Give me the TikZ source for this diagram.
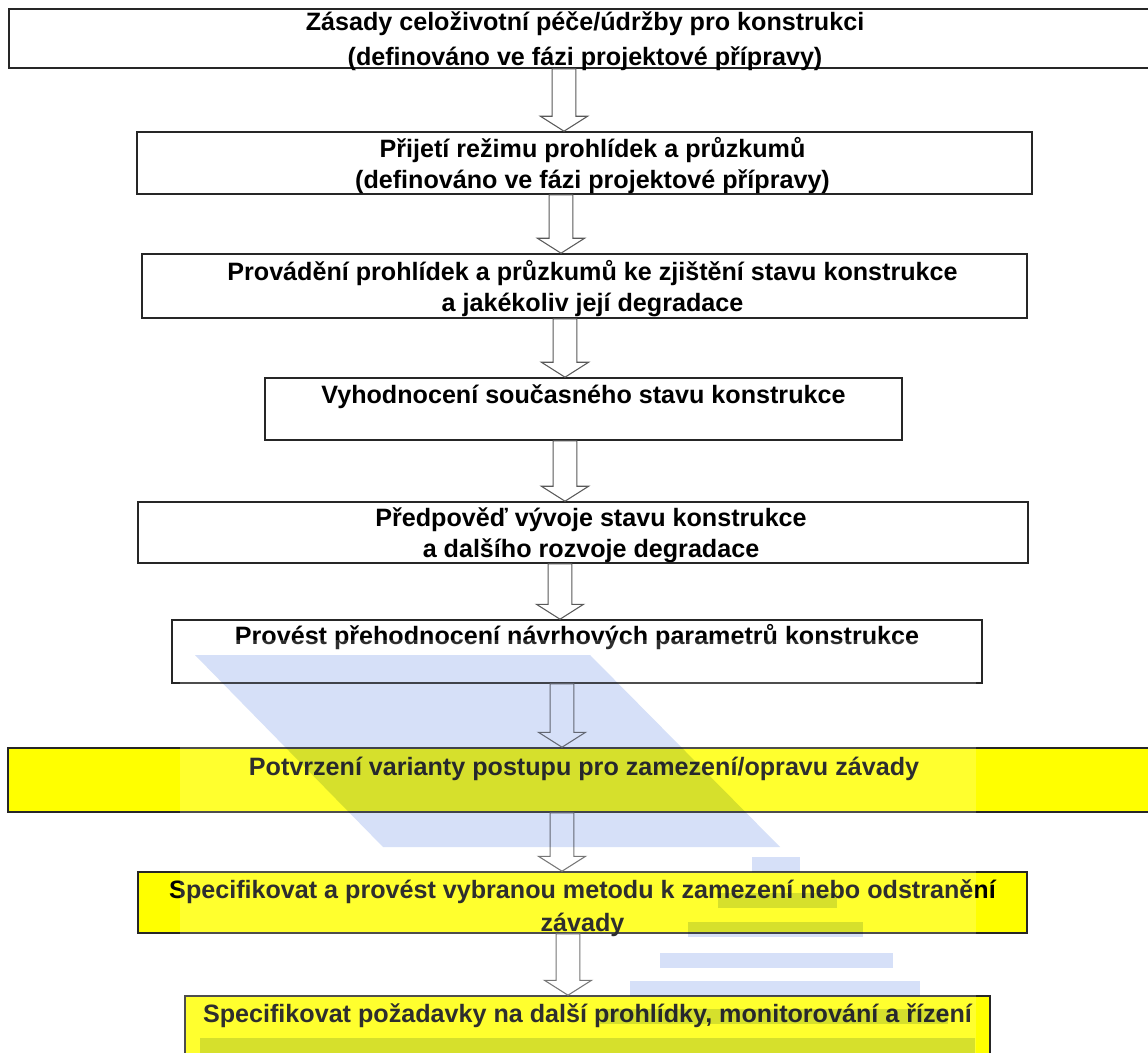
\documentclass[tikz,border=0pt]{standalone}
\usepackage{fontspec}
\setmainfont{Liberation Sans}
\usetikzlibrary{calc,fit}
\definecolor{markblue}{RGB}{214,224,248}
\definecolor{boxyellow}{RGB}{255,255,0}
\begin{document}
\begin{tikzpicture}[x=0.02cm, y=-0.02cm,
    stepbox/.style={rectangle, draw=black!85, line width=0.9pt, fill=white, inner sep=0pt},
    hotbox/.style={stepbox, fill=boxyellow},
    txt/.style={anchor=base, align=center, inner sep=0pt, font=\fontsize{14.3}{17.6}\selectfont\bfseries},
    flow/.style={draw=black!65, line width=0.6pt, fill=white}
]
\clip (0,0) rectangle (1148,1053);
\fill[white] (0,0) rectangle (1148,1053);

% Process boxes
\node[stepbox, fit={(9,9) (1161,68)}] (b1) {};
\node[stepbox, fit={(137,132) (1032,194)}] (b2) {};
\node[stepbox, fit={(142,254) (1027,318)}] (b3) {};
\node[stepbox, fit={(265,378) (902,440)}] (b4) {};
\node[stepbox, fit={(138,502) (1028,563)}] (b5) {};
\node[stepbox, fit={(172,620) (982,683)}] (b6) {};
\node[hotbox, fit={(8,748) (1160,812)}] (b7) {};
\node[hotbox, fit={(138,872) (1027,933)}] (b8) {};
\node[hotbox, fit={(185,996) (990,1070)}] (b9) {};

% Block arrows
\foreach \a/\b/\ax in {b1/b2/564, b2/b3/561, b3/b4/565, b4/b5/565, b5/b6/560, b6/b7/562, b7/b8/562, b8/b9/568} {
  \coordinate (ax) at (\ax,0);
  \draw[flow] let \p1=(\a.south -| ax), \p2=(\b.north -| ax) in
    (\x1-6.8pt,\y1) -- (\x1-6.8pt,\y2+8.5pt) -- (\x1-13.4pt,\y2+8.5pt) -- (\x2,\y2)
    -- (\x1+13.4pt,\y2+8.5pt) -- (\x1+6.8pt,\y2+8.5pt) -- (\x1+6.8pt,\y1) -- cycle;
}

% Texts (base = baseline of the last line)
\node[txt] (t1) at ($(b1.north)+(0,57)$) {Zásady celoživotní péče/údržby pro konstrukci\\[2pt](definováno ve fázi projektové přípravy)};
\node[txt] (t2) at ($(b2.north)+(8,57)$) {Přijetí režimu prohlídek a průzkumů\\(definováno ve fázi projektové přípravy)};
\node[txt] (t3) at ($(b3.north)+(8,58)$) {Provádění prohlídek a průzkumů ke zjištění stavu konstrukce\\a jakékoliv její degradace};
\node[txt] (t4) at ($(b4.north)+(0,26)$) {Vyhodnocení současného stavu konstrukce};
\node[txt] (t5) at ($(b5.north)+(8,56)$) {Předpověď vývoje stavu konstrukce\\a dalšího rozvoje degradace};
\node[txt] (t6) at ($(b6.north)+(0,25)$) {Provést přehodnocení návrhových parametrů konstrukce};
\node[txt] (t7) at ($(b7.north)+(0,28)$) {Potvrzení varianty postupu pro zamezení/opravu závady};
\node[txt] (t8) at ($(b8.north)+(0,60)$) {Specifikovat a provést vybranou metodu k zamezení nebo odstranění\\[1pt]závady};
\node[txt] (t9) at ($(b9.north)+(0,27)$) {Specifikovat požadavky na další prohlídky, monitorování a řízení};

% Watermark
\fill[white, opacity=0.18] (180,640) rectangle (976,1053);
\begin{scope}[blend mode=multiply]
  \fill[markblue] (195,655) -- (590,655) -- (780,847) -- (383,847) -- cycle;
  \foreach \l/\r/\t in {752/800/857, 718/837/893, 688/863/922, 660/893/953, 630/920/981, 600/948/1009, 200/975/1038}
    \fill[markblue] (\l,\t) rectangle (\r,\t+15);
\end{scope}

\end{tikzpicture}
\end{document}
